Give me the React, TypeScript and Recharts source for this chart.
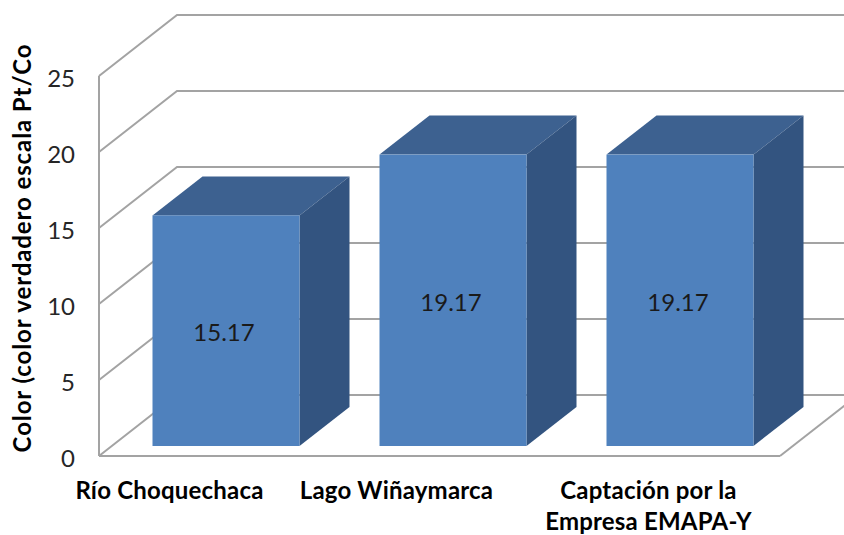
import { BarChart, Bar, XAxis, YAxis, CartesianGrid, LabelList } from "recharts";

const categories = ["Río Choquechaca", "Lago Wiñaymarca", "Captación por la|Empresa EMAPA-Y"];
const colorValues = [15.17, 19.17, 19.17];
const yTicks = [0, 5, 10, 15, 20, 25];
const yTitle = "Color (color verdadero escala Pt/Co";

const data = categories.map((name, i) => ({ name, color: colorValues[i] }));

const FONT = "Lato, sans-serif";
const WIDTH = 844;
const HEIGHT = 535;
const AXIS_HEIGHT = 79;
const MARGIN = { top: 76, right: 64, bottom: 0, left: 0 };
const GRID = "#a3a3a3";

// depth of the walls, and how far the bars sit in front of the axis plane
const WALL_DX = 78;
const WALL_DY = -61;
const BAR_DX = 50;
const BAR_DY = -39;
const BAR_SHIFT_X = 13.5;
const BAR_SHIFT_Y = -10;
const LABEL_SHIFT = [-43, -43, -18];

const WallLine = (props: any) => {
  const { x1, y1, x2 } = props;
  const isFloor = y1 >= HEIGHT - AXIS_HEIGHT - 1;
  return (
    <g>
      <path
        d={`M${x1},${y1} L${x1 + WALL_DX},${y1 + WALL_DY} L${x2 + WALL_DX},${y1 + WALL_DY}`}
        fill="none"
        stroke={GRID}
        strokeWidth={2}
      />
      {isFloor && (
        <line x1={x2} y1={y1} x2={x2 + WALL_DX} y2={y1 + WALL_DY} stroke={GRID} strokeWidth={2} />
      )}
    </g>
  );
};

const Box3D = (props: any) => {
  const x = props.x + BAR_SHIFT_X;
  const y = props.y + BAR_SHIFT_Y;
  const { width: w, height: h } = props;
  return (
    <g>
      <path
        d={`M${x},${y} l${BAR_DX},${BAR_DY} h${w} l${-BAR_DX},${-BAR_DY} z`}
        fill="#3d6190"
      />
      <path
        d={`M${x + w},${y} l${BAR_DX},${BAR_DY} v${h} l${-BAR_DX},${-BAR_DY} z`}
        fill="#335480"
      />
      <rect x={x} y={y} width={w} height={h} fill="#4f81bd" />
    </g>
  );
};

const BarValue = (props: any) => {
  const { x, y, width, height, value } = props;
  return (
    <text
      x={x + BAR_SHIFT_X + width / 2 - 2}
      y={y + BAR_SHIFT_Y + height / 2 + 1}
      textAnchor="middle"
      dominantBaseline="central"
      fontFamily={FONT}
      fontSize={24}
      fill="#1a1a1a"
    >
      {value}
    </text>
  );
};

const CategoryTick = (props: any) => {
  const { x, payload, index } = props;
  const lines = String(payload.value).split("|");
  return (
    <text
      textAnchor="middle"
      fontFamily={FONT}
      fontSize={24}
      fontWeight={700}
      letterSpacing={0.2}
      fill="#000"
    >
      {lines.map((line, i) => (
        <tspan key={line} x={x + LABEL_SHIFT[index]} y={499 + i * 31}>
          {line}
        </tspan>
      ))}
    </text>
  );
};

const App = () => {
  return (
    <div style={{ position: "absolute", left: 0, top: 0 }}>
      <BarChart width={WIDTH} height={HEIGHT} data={data} margin={MARGIN}>
        <CartesianGrid vertical={false} horizontal={(p: any) => <WallLine key={p.key} {...p} />} />
        <XAxis
          dataKey="name"
          height={AXIS_HEIGHT}
          interval={0}
          tickLine={false}
          axisLine={{ stroke: GRID, strokeWidth: 2 }}
          tick={<CategoryTick />}
        />
        <YAxis
          width={99}
          domain={[0, 25]}
          ticks={yTicks}
          tickLine={false}
          tickMargin={18}
          axisLine={{ stroke: GRID, strokeWidth: 2 }}
          tick={{ fontFamily: FONT, fontSize: 24, fill: "#262626", dy: 2 }}
          label={{
            content: () => (
              <text
                transform="translate(31,248) rotate(-90)"
                textAnchor="middle"
                fontFamily={FONT}
                fontSize={24}
                fontWeight={700}
                letterSpacing={0.9}
                fill="#000"
              >
                {yTitle}
              </text>
            ),
          }}
        />
        <Bar dataKey="color" barSize={147} shape={<Box3D />} isAnimationActive={false}>
          <LabelList dataKey="color" content={<BarValue />} />
        </Bar>
      </BarChart>
    </div>
  );
};

export default App;
